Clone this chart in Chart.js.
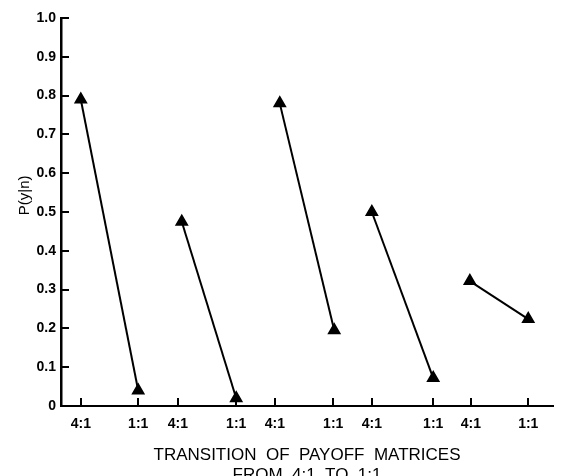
<!DOCTYPE html>
<html>
<head>
<meta charset="utf-8">
<script src="https://cdn.jsdelivr.net/npm/chart.js@4.4.1/dist/chart.umd.min.js"></script>
<style>
  html, body { margin: 0; padding: 0; background: #fff; }
  #wrap { width: 561px; height: 476px; }
</style>
</head>
<body>
<div id="wrap"><canvas id="chart" width="561" height="476"></canvas></div>
<script>
// x positions (arbitrary session units) of the 10 tick marks and their labels
const tickPositions = [2, 7.8, 11.8, 17.7, 21.6, 27.5, 31.4, 37.6, 41.4, 47.2];
const tickLabels = ['4:1', '1:1', '4:1', '1:1', '4:1', '1:1', '4:1', '1:1', '4:1', '1:1'];
const yTickLabels = ['0', '0.1', '0.2', '0.3', '0.4', '0.5', '0.6', '0.7', '0.8', '0.9', '1.0'];

// each pair: 4:1 then 1:1
const pairX = [[2, 7.8], [12.2, 17.7], [22.1, 27.6], [31.4, 37.6], [41.3, 47.2]];
const pairY = [[0.79, 0.04], [0.475, 0.02], [0.78, 0.195], [0.50, 0.072], [0.322, 0.224]];

const datasets = pairX.map((xs, i) => ({
  data: xs.map((x, j) => ({ x: x, y: pairY[i][j] })),
  borderColor: '#000',
  backgroundColor: '#000',
  borderWidth: 2,
  pointStyle: 'triangle',
  pointRadius: 6,
  pointHoverRadius: 6,
  showLine: true,
  tension: 0
}));

const tickFont = { family: 'Liberation Sans', size: 14, weight: 'bold' };

// tick marks pointing into the plot, like the original figure
const inwardTicks = {
  id: 'inwardTicks',
  afterDraw(chart) {
    const { ctx, chartArea, scales } = chart;
    ctx.save();
    ctx.strokeStyle = '#000';
    ctx.lineWidth = 2;
    ctx.beginPath();
    scales.y.ticks.forEach(t => {
      const py = Math.round(scales.y.getPixelForValue(t.value));
      ctx.moveTo(chartArea.left, py);
      ctx.lineTo(chartArea.left + 8, py);
    });
    scales.x.ticks.forEach(t => {
      const px = Math.round(scales.x.getPixelForValue(t.value));
      ctx.moveTo(px, chartArea.bottom);
      ctx.lineTo(px, chartArea.bottom - 8);
    });
    ctx.stroke();
    ctx.restore();
  }
};

new Chart(document.getElementById('chart'), {
  type: 'scatter',
  data: { datasets },
  plugins: [inwardTicks],
  options: {
    responsive: false,
    animation: false,
    layout: { padding: { top: 18, right: 3, left: 0, bottom: 0 } },
    plugins: { legend: { display: false }, tooltip: { enabled: false } },
    scales: {
      x: {
        type: 'linear',
        min: 0,
        max: 49.7,
        afterBuildTicks: s => { s.ticks = tickPositions.map(v => ({ value: v })); },
        afterFit: s => { s.height = 70; },
        ticks: {
          autoSkip: false,
          maxRotation: 0,
          padding: 10,
          color: '#000',
          font: tickFont,
          callback: (v, i) => tickLabels[i]
        },
        grid: { drawOnChartArea: false, drawTicks: false },
        border: { color: '#000', width: 2 },
        title: {
          display: true,
          text: ['TRANSITION  OF  PAYOFF  MATRICES', 'FROM  4:1  TO  1:1'],
          color: '#000',
          font: { family: 'Liberation Sans', size: 17 },
          padding: { top: 0, bottom: -10 }
        }
      },
      y: {
        min: 0,
        max: 1,
        afterBuildTicks: s => { s.ticks = yTickLabels.map((t, i) => ({ value: i / 10 })); },
        afterFit: s => { s.width = 61; },
        ticks: {
          padding: 5,
          color: '#000',
          font: tickFont,
          callback: (v, i) => yTickLabels[i]
        },
        grid: { drawOnChartArea: false, drawTicks: false },
        border: { color: '#000', width: 2.5 },
        title: {
          display: true,
          text: '        P(y|n)',
          color: '#000',
          font: { family: 'Liberation Sans', size: 15 },
          padding: { top: 16, bottom: 0 }
        }
      }
    }
  }
});
</script>
</body>
</html>
